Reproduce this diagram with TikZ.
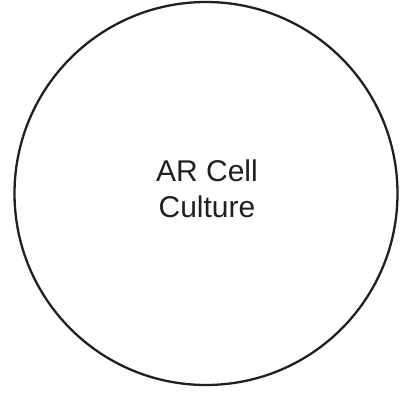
\documentclass[tikz,border=0pt]{standalone}
\usepackage{fontspec}
\setmainfont{Liberation Sans}
\definecolor{ink}{HTML}{231F20}
\begin{document}
\begin{tikzpicture}[x=1pt,y=1pt,
  cellcircle/.style={circle, draw=ink, line width=2.3pt, minimum size=383pt, inner sep=0pt},
  celltext/.style={align=center, inner sep=0pt, text=ink, font=\fontsize{30}{36}\selectfont}]
\useasboundingbox (0,0) rectangle (412,-396);
\node[cellcircle] (cell) at (206,-193.5) {};
\node[celltext] (label) at (207,-189) {AR Cell\\Culture};
\end{tikzpicture}
\end{document}
